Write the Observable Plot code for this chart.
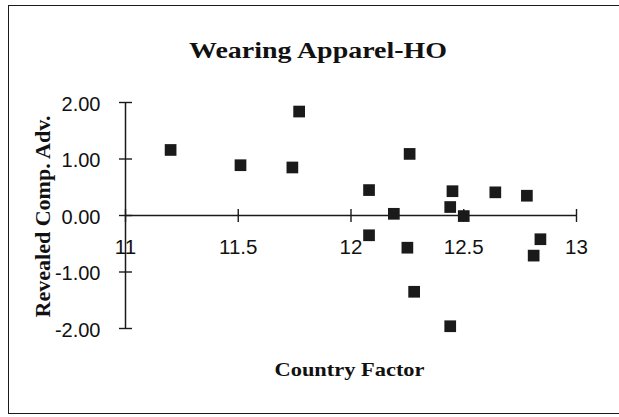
<!DOCTYPE html>
<html>
<head>
<meta charset="utf-8">
<script src="https://cdn.jsdelivr.net/npm/d3@7"></script>
<script src="https://cdn.jsdelivr.net/npm/@observablehq/plot@0.6"></script>
<style>
  html, body { margin: 0; padding: 0; background: #fff; overflow: hidden; }
  #wrap { position: relative; width: 619px; height: 417px; overflow: hidden; }
  #border { position: absolute; left: 8px; top: 5px; width: 640px; height: 409px; border: 1.5px solid #1a1a1a; box-sizing: border-box; }
  #chart { position: absolute; left: 0; top: 0; }
</style>
</head>
<body>
<div id="wrap"><div id="border"></div><div id="chart"></div></div>
<script>
// Data
const countryFactor = [11.20, 11.51, 11.74, 11.77, 12.08, 12.08, 12.19, 12.26, 12.25, 12.28, 12.45, 12.44, 12.44, 12.50, 12.64, 12.78, 12.84, 12.81];
const revealedCompAdv = [1.16, 0.89, 0.85, 1.84, 0.45, -0.35, 0.03, 1.09, -0.57, -1.35, 0.43, 0.15, -1.96, -0.01, 0.41, 0.35, -0.42, -0.71];
const xTicks = [11, 11.5, 12, 12.5, 13];
const xTickLabels = ["11", "11.5", "12", "12.5", "13"];
const yTicks = [2, 1, 0, -1, -2];
const yTickLabels = ["2.00", "1.00", "0.00", "-1.00", "-2.00"];
const title = "Wearing Apparel-HO";
const xLabel = "Country Factor";
const yLabel = "Revealed Comp. Adv.";

const points = countryFactor.map((x, i) => ({x, y: revealedCompAdv[i]}));
const xt = xTicks.map((v, i) => ({v, label: xTickLabels[i]}));
const yt = yTicks.map((v, i) => ({v, label: yTickLabels[i]}));

const ink = "#1a1a1a";
const serif = "'Liberation Serif', 'Times New Roman', serif";
const sans = "'Liberation Sans', Arial, sans-serif";

const W = 619, H = 417, mL = 125, mR = 43, mT = 102, mB = 89;
const xDomain = [11, 13], yDomain = [-2, 2];
// half-length of crossing tick marks (6.5 px) expressed in each scale's units
const tickPx = 6.5;
const tickDY = tickPx * (yDomain[1] - yDomain[0]) / (H - mT - mB);
const tickDX = tickPx * (xDomain[1] - xDomain[0]) / (W - mL - mR);

const chart = Plot.plot({
  width: W,
  height: H,
  marginLeft: mL,
  marginRight: mR,
  marginTop: mT,
  marginBottom: mB,
  x: {domain: xDomain, axis: null},
  y: {domain: yDomain, axis: null},
  style: {background: "transparent", overflow: "visible"},
  marks: [
    // axis lines
    Plot.ruleY([0], {x1: 11, x2: 13, stroke: ink, strokeWidth: 1.5}),
    Plot.ruleX([11], {y1: -2, y2: 2, stroke: ink, strokeWidth: 1.5}),
    // crossing tick marks
    Plot.link(xt, {x1: "v", x2: "v", y1: -tickDY, y2: tickDY, stroke: ink, strokeWidth: 1.4}),
    Plot.link(yt, {y1: "v", y2: "v", x1: 11 - tickDX, x2: 11 + tickDX, stroke: ink, strokeWidth: 1.4}),
    // tick labels
    Plot.text(xt, {x: "v", y: 0, dy: 32, text: "label", fontFamily: sans, fontSize: 20.5, fill: "#111"}),
    Plot.text(yt, {x: 11, y: "v", dx: -25, dy: 2, text: "label", textAnchor: "end", fontFamily: sans, fontSize: 20, fill: "#111"}),
    // points
    Plot.dot(points, {x: "x", y: "y", symbol: "square", r: 6.6, fill: ink, stroke: null}),
    // titles
    Plot.text([title], {x: 12, y: 2, dx: -33, dy: -52, text: d => d, fontFamily: serif, fontWeight: "bold", fontSize: 24, fill: "#111"}),
    Plot.text([xLabel], {x: 12, y: -2, dx: -1.5, dy: 41, text: d => d, fontFamily: serif, fontWeight: "bold", fontSize: 19, fill: "#111"}),
    Plot.text([yLabel], {x: 11, y: 0, dx: -82, dy: 1, rotate: -90, text: d => d, fontFamily: serif, fontWeight: "bold", fontSize: 20, fill: "#111"})
  ]
});
document.getElementById("chart").appendChild(chart);

// stretch titles horizontally like the scanned original
const stretch = {[title]: 258, [xLabel]: 150, [yLabel]: 202};
d3.select(chart).selectAll("text").each(function() {
  const t = this.textContent;
  if (stretch[t]) d3.select(this).attr("textLength", stretch[t]).attr("lengthAdjust", "spacingAndGlyphs");
});
</script>
</body>
</html>
